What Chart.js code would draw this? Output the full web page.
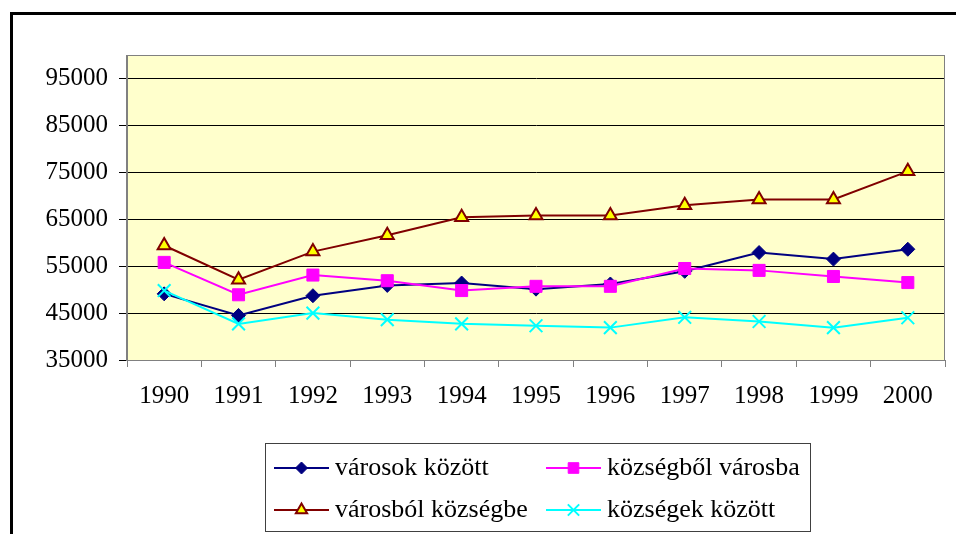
<!DOCTYPE html>
<html>
<head>
<meta charset="utf-8">
<script src="https://cdn.jsdelivr.net/npm/chart.js@4.4.1/dist/chart.umd.min.js"></script>
<style>
  html, body { margin: 0; padding: 0; background: #fff; overflow: hidden; }
  #wrap { position: relative; width: 956px; height: 534px; overflow: hidden; }
  #frame { position: absolute; left: 10px; top: 12px; width: 990px; height: 560px; border: 3px solid #000; }
  #chart { position: absolute; left: 0; top: 0; }
</style>
</head>
<body>
<div id="wrap">
  <div id="frame"></div>
  <canvas id="chart" width="956" height="534"></canvas>
</div>
<script>
const years = ['1990', '1991', '1992', '1993', '1994', '1995', '1996', '1997', '1998', '1999', '2000'];
const yTicks = [35000, 45000, 55000, 65000, 75000, 85000, 95000];

const varosokKozott = [49100, 44500, 48700, 50900, 51400, 50100, 51200, 53900, 57900, 56500, 58600];
const kozsegbolVarosba = [55800, 48900, 53100, 51900, 49800, 50700, 50700, 54500, 54100, 52800, 51500];
const varosbolKozsegbe = [59400, 52100, 58100, 61600, 65400, 65800, 65800, 68000, 69200, 69200, 75200];
const kozsegekKozott = [49800, 42700, 45000, 43600, 42700, 42300, 41900, 44100, 43200, 41900, 44000];

const FONT = 'Liberation Serif';
Chart.defaults.font.family = FONT;

// yellow plot area with a grey frame
const plotArea = {
    id: 'plotArea',
    beforeDraw(chart) {
        const { ctx, chartArea: a } = chart;
        ctx.save();
        ctx.fillStyle = '#FFFFCC';
        ctx.fillRect(a.left, a.top, a.width, a.height);
        ctx.restore();
    },
    beforeDatasetsDraw(chart) {
        const { ctx, chartArea: a } = chart;
        ctx.save();
        ctx.strokeStyle = '#808080';
        ctx.lineWidth = 1;
        ctx.strokeRect(a.left - 0.5, a.top + 0.5, a.width, a.height);
        ctx.restore();
    }
};

// Excel style legend: boxed, two columns, line sample with the marker in the middle
const boxLegend = {
    id: 'boxLegend',
    afterDraw(chart) {
        const { ctx } = chart;
        const cols = [274, 546];
        const rows = [468, 510];
        ctx.save();
        ctx.fillStyle = '#fff';
        ctx.fillRect(265, 443, 545, 88);
        ctx.strokeStyle = '#404040';
        ctx.lineWidth = 1;
        ctx.strokeRect(265.5, 443.5, 545, 88);

        chart.data.datasets.forEach((ds, i) => {
            const x = cols[i % 2];
            const y = rows[Math.floor(i / 2)];
            ctx.strokeStyle = ds.borderColor;
            ctx.lineWidth = 2;
            ctx.beginPath();
            ctx.moveTo(x, y);
            ctx.lineTo(x + 55, y);
            ctx.stroke();

            ctx.fillStyle = ds.pointBackgroundColor;
            ctx.strokeStyle = ds.pointBorderColor;
            ctx.lineWidth = ds.pointBorderWidth;
            Chart.helpers.drawPoint(ctx, {
                pointStyle: ds.pointStyle,
                radius: ds.pointRadius - 1,
                rotation: 0,
                borderWidth: ds.pointBorderWidth
            }, x + 27.5, y);

            ctx.fillStyle = '#000';
            ctx.font = '26px ' + FONT;
            ctx.textBaseline = 'middle';
            ctx.textAlign = 'left';
            ctx.fillText(ds.label, x + 61, y);
        });
        ctx.restore();
    }
};

new Chart(document.getElementById('chart'), {
    type: 'line',
    data: {
        labels: years,
        datasets: [
            {
                label: 'városok között',
                data: varosokKozott,
                borderColor: '#000080',
                pointStyle: 'rectRot',
                pointRadius: 7,
                pointBackgroundColor: '#000080',
                pointBorderColor: '#000080',
                pointBorderWidth: 1,
                order: 3
            },
            {
                label: 'községből városba',
                data: kozsegbolVarosba,
                borderColor: '#FF00FF',
                pointStyle: 'rect',
                pointRadius: 8.5,
                pointBackgroundColor: '#FF00FF',
                pointBorderColor: '#FF00FF',
                pointBorderWidth: 1,
                order: 2
            },
            {
                label: 'városból községbe',
                data: varosbolKozsegbe,
                borderColor: '#800000',
                pointStyle: 'triangle',
                pointRadius: 7.5,
                pointBackgroundColor: '#FFFF00',
                pointBorderColor: '#800000',
                pointBorderWidth: 2,
                order: 1
            },
            {
                label: 'községek között',
                data: kozsegekKozott,
                borderColor: '#00FFFF',
                pointStyle: 'crossRot',
                pointRadius: 9,
                pointBackgroundColor: '#00FFFF',
                pointBorderColor: '#00FFFF',
                pointBorderWidth: 2,
                order: 0
            }
        ]
    },
    options: {
        responsive: false,
        animation: false,
        devicePixelRatio: 1,
        layout: { padding: { top: 55, right: 3, left: 0, bottom: 0 } },
        elements: {
            line: { borderWidth: 2, tension: 0 }
        },
        plugins: {
            legend: { display: false },
            tooltip: { enabled: false }
        },
        scales: {
            x: {
                offset: true,
                afterFit: (scale) => { scale.height = 174; },
                grid: {
                    offset: true,
                    drawOnChartArea: false,
                    color: '#808080',
                    tickLength: 7
                },
                border: { color: '#808080' },
                ticks: {
                    color: '#000',
                    font: { family: FONT, size: 25 },
                    padding: 14,
                    maxRotation: 0,
                    autoSkip: false
                }
            },
            y: {
                min: 35000,
                max: 100000,
                afterFit: (scale) => { scale.width = 127; },
                afterBuildTicks: (scale) => {
                    scale.ticks = yTicks.map(v => ({ value: v }));
                },
                grid: {
                    color: '#000',
                    tickColor: '#000',
                    tickLength: 8
                },
                border: { color: '#808080' },
                ticks: {
                    color: '#000',
                    font: { family: FONT, size: 25 },
                    padding: 11,
                    callback: (v) => String(v)
                }
            }
        }
    },
    plugins: [plotArea, boxLegend]
});
</script>
</body>
</html>
